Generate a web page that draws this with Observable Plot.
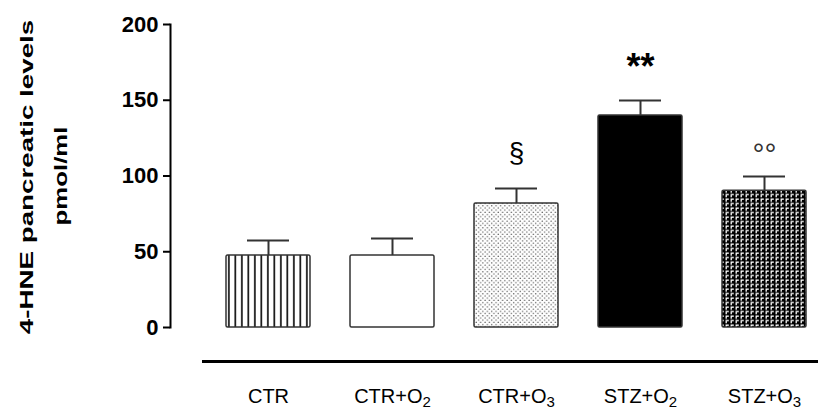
<!DOCTYPE html>
<html><head><meta charset="utf-8">
<script src="https://cdn.jsdelivr.net/npm/d3@7"></script>
<script src="https://cdn.jsdelivr.net/npm/@observablehq/plot@0.6"></script>
<style>body{margin:0;background:#fff}</style>
</head><body><div id="chart"></div>
<script>
const groups = ["CTR", "CTR+O2", "CTR+O3", "STZ+O2", "STZ+O3"];
const means = [47.5, 47.5, 81.8, 140, 90.2];
const sems = [9.9, 11.3, 9.9, 9.8, 9.5];
const signif = ["", "", "§", "**", "°°"];
const yTicks = [0, 50, 100, 150, 200];
const yTitle = ["4-HNE pancreatic levels", "pmol/ml"];

const data = groups.map((g, i) => ({group: g, mean: means[i], top: means[i] + sems[i], sig: signif[i]}));
const fills = ["url(#p-vlines)", "#ffffff", "url(#p-dots)", "#000000", "url(#p-weave)"];
const font = "'Liberation Sans', Arial, Helvetica, sans-serif";

const chart = Plot.plot({
  width: 818, height: 412,
  marginTop: 24, marginBottom: 85, marginLeft: 170, marginRight: 0,
  style: {fontFamily: font, background: "#fff", color: "#000"},
  x: {domain: groups, paddingInner: 0.32, paddingOuter: 0.268, align: 0.827, label: null},
  y: {domain: [0, 200], label: null},
  color: {domain: groups, range: fills},
  marks: [
    Plot.frame({anchor: "left", strokeWidth: 2}),
    Plot.axisY({ticks: yTicks, tickSize: 7, tickPadding: 5, fontSize: 22, fontWeight: "bold", strokeWidth: 2, label: null}),
    Plot.axisX({tickSize: 0, tickPadding: 61, fontSize: 20, label: null}),
    Plot.ruleY([0], {dy: 34, insetLeft: 32, strokeWidth: 3}),
    Plot.ruleX(data, {x: "group", y1: "mean", y2: "top", stroke: "#333", strokeWidth: 2}),
    Plot.tickY(data, {x: "group", y: "top", insetLeft: 21, insetRight: 21, stroke: "#333", strokeWidth: 2}),
    Plot.barY(data, {x: "group", y: "mean", fill: "group", stroke: "#333", strokeWidth: 1.5, rx: 1.5}),
    Plot.text(data.filter(d => d.sig === "§"), {x: "group", y: "top", text: "sig", dy: -36, fontSize: 28}),
    Plot.text(data.filter(d => d.sig === "**"), {x: "group", y: "top", text: "sig", dy: -33, fontSize: 36, fontWeight: "bold"}),
    Plot.text(data.filter(d => d.sig === "°°"), {x: "group", y: "top", text: "sig", dy: -22, fontSize: 30, fill: "#333"}),
    Plot.text([yTitle[0]], {frameAnchor: "left", textAnchor: "middle", text: d => d, rotate: -90, dx: -144, dy: 1, fontSize: 19, fontWeight: "bold"}),
    Plot.text([yTitle[1]], {frameAnchor: "left", textAnchor: "middle", text: d => d, rotate: -90, dx: -110, fontSize: 19, fontWeight: "bold"})
  ]
});

const svg = d3.select(chart);
svg.insert("defs", ":first-child").html(`
  <pattern id="p-vlines" patternUnits="userSpaceOnUse" width="6.5" height="6.5" x="226">
    <rect width="6.5" height="6.5" fill="#fff"/>
    <rect x="2" width="1.7" height="6.5" fill="#111"/>
  </pattern>
  <pattern id="p-dots" patternUnits="userSpaceOnUse" width="4.4" height="4.4">
    <rect width="4.4" height="4.4" fill="#fff"/>
    <circle cx="1.1" cy="1.1" r="0.75" fill="#666"/>
    <circle cx="3.3" cy="3.3" r="0.75" fill="#666"/>
  </pattern>
  <pattern id="p-weave" patternUnits="userSpaceOnUse" width="5" height="4.5">
    <rect width="5" height="4.5" fill="#000"/>
    <path d="M1.2,3.8 L1.2,1.2 L3.8,1.2" fill="none" stroke="#fff" stroke-width="1.3"/>
  </pattern>`);

svg.selectAll("text").each(function() {
  const t = d3.select(this);
  const s = this.textContent;
  if (s === yTitle[0]) t.attr("transform", (t.attr("transform") || "") + " scale(1.46,1)");
  if (s === yTitle[1]) t.attr("transform", (t.attr("transform") || "") + " scale(1.36,1)");
  const m = /^(CTR|STZ)\+O(\d)$/.exec(s);
  if (m) {
    t.text(m[1] + "+O");
    t.append("tspan").attr("dy", "0.3em").attr("font-size", "0.75em").text(m[2]);
  }
});

document.getElementById("chart").appendChild(chart);
</script>
</body></html>
